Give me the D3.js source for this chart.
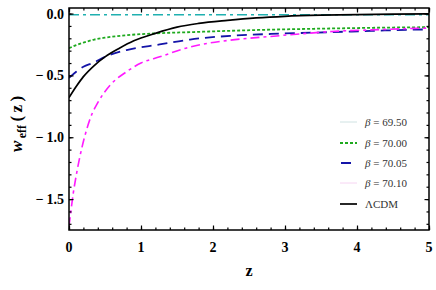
<!DOCTYPE html>
<html>
<head>
<meta charset="utf-8">
<script src="https://cdn.jsdelivr.net/npm/d3@7"></script>
<style>
  body { margin: 0; background: #fff; }
  text { font-family: "Liberation Serif", "Times New Roman", serif; }
</style>
</head>
<body>
<svg></svg>
<script>
// values
var zCyan = [0, 5];
var wCyan = [-0.01, -0.01];

var zGreen = [0, 0.1, 0.2, 0.35, 0.5, 0.8, 1.2, 1.7, 2.2, 2.8, 3.4, 4, 4.5, 5];
var wGreen = [-0.28, -0.255, -0.235, -0.21, -0.195, -0.175, -0.16, -0.15, -0.14, -0.13, -0.123, -0.117, -0.113, -0.11];

var zBlue = [0, 0.1, 0.2, 0.33, 0.5, 0.8, 1.26, 1.68, 2.24, 2.8, 3.65, 4.2, 4.8, 5];
var wBlue = [-0.52, -0.47, -0.43, -0.40, -0.35, -0.295, -0.25, -0.21, -0.18, -0.165, -0.15, -0.14, -0.13, -0.128];

var zMagenta = [0, 0.03, 0.06, 0.1, 0.15, 0.22, 0.3, 0.4, 0.57, 0.8, 1.0, 1.26, 1.68, 2.24, 2.8, 3.2, 3.65, 4.2, 4.8, 5];
var wMagenta = [-1.72, -1.58, -1.45, -1.31, -1.16, -0.99, -0.84, -0.72, -0.58, -0.47, -0.40, -0.35, -0.27, -0.215, -0.185, -0.165, -0.145, -0.132, -0.12, -0.117];

var zBlack = [0, 0.1, 0.2, 0.35, 0.5, 0.7, 0.9, 1.2, 1.5, 1.8, 2.2, 2.6, 3.0, 3.5, 4, 4.5, 5];
var wBlack = [-0.68, -0.59, -0.51, -0.42, -0.35, -0.28, -0.22, -0.16, -0.11, -0.08, -0.055, -0.035, -0.022, -0.013, -0.008, -0.005, -0.003];

var xTicks = [0, 1, 2, 3, 4, 5];
var yTicks = [0, -0.5, -1.0, -1.5];
var yTickLabels = ["0.0", "\u2212\u20090.5", "\u2212\u20091.0", "\u2212\u20091.5"];
var legendLabels = ["69.50", "70.00", "70.05", "70.10"];

function drawChart() {
    var width = 436, height = 290;
    var mLeft = 69, mRight = 429, mTop = 8, mBottom = 230;

    var svg = d3.select("svg").attr("width", width).attr("height", height);

    var x = d3.scaleLinear().domain([0, 5]).range([mLeft, mRight]);
    var y = d3.scaleLinear().domain([-1.75, 0.045]).range([mBottom, mTop]);

    var series = [
        {z: zCyan, w: wCyan, color: "#1fb0b0", dash: "10,4,3,4", width: 1.6},
        {z: zGreen, w: wGreen, color: "#1faa1f", dash: "3,2", width: 1.8},
        {z: zBlue, w: wBlue, color: "#1414a8", dash: "10,6", width: 1.8},
        {z: zMagenta, w: wMagenta, color: "#ff1aff", dash: "9,4,3,4", width: 1.6},
        {z: zBlack, w: wBlack, color: "#000", dash: null, width: 1.7}
    ];

    svg.append("clipPath").attr("id", "plotclip")
        .append("rect").attr("x", mLeft).attr("y", mTop)
        .attr("width", mRight - mLeft).attr("height", mBottom - mTop);

    var line = d3.line()
        .x(function(d) { return x(d[0]); })
        .y(function(d) { return y(d[1]); })
        .curve(d3.curveMonotoneX);

    var g = svg.append("g").attr("clip-path", "url(#plotclip)");
    series.forEach(function(s) {
        g.append("path")
            .datum(d3.zip(s.z, s.w))
            .attr("d", line)
            .attr("fill", "none")
            .attr("stroke", s.color)
            .attr("stroke-width", s.width)
            .attr("stroke-dasharray", s.dash);
    });

    // frame
    svg.append("rect")
        .attr("x", mLeft).attr("y", mTop)
        .attr("width", mRight - mLeft).attr("height", mBottom - mTop)
        .attr("fill", "none").attr("stroke", "#000").attr("stroke-width", 1.5);

    // ticks on all four sides, pointing inward
    var xMinor = d3.range(0, 5.001, 0.2);
    var yMinor = d3.range(-1.7, 0.01, 0.1);

    svg.append("g").attr("transform", "translate(0," + mBottom + ")")
        .call(d3.axisTop(x).tickValues(xMinor).tickSize(2.5).tickFormat(""));
    svg.append("g").attr("transform", "translate(0," + mBottom + ")")
        .call(d3.axisTop(x).tickValues(xTicks).tickSize(4.5).tickFormat(""));
    svg.append("g").attr("transform", "translate(0," + mTop + ")")
        .call(d3.axisBottom(x).tickValues(xMinor).tickSize(2.5).tickFormat(""));
    svg.append("g").attr("transform", "translate(0," + mTop + ")")
        .call(d3.axisBottom(x).tickValues(xTicks).tickSize(4.5).tickFormat(""));
    svg.append("g").attr("transform", "translate(" + mLeft + ",0)")
        .call(d3.axisRight(y).tickValues(yMinor).tickSize(2.5).tickFormat(""));
    svg.append("g").attr("transform", "translate(" + mLeft + ",0)")
        .call(d3.axisRight(y).tickValues(yTicks).tickSize(4.5).tickFormat(""));
    svg.append("g").attr("transform", "translate(" + mRight + ",0)")
        .call(d3.axisLeft(y).tickValues(yMinor).tickSize(2.5).tickFormat(""));
    svg.append("g").attr("transform", "translate(" + mRight + ",0)")
        .call(d3.axisLeft(y).tickValues(yTicks).tickSize(4.5).tickFormat(""));

    svg.selectAll(".domain").remove();
    svg.selectAll(".tick line").attr("stroke", "#000").attr("stroke-width", 1.2);

    // tick labels
    svg.selectAll(".xlab").data(xTicks).enter().append("text")
        .attr("x", function(d) { return x(d); })
        .attr("y", mBottom + 22)
        .attr("text-anchor", "middle")
        .attr("font-weight", "bold").attr("font-size", 14)
        .text(function(d) { return d; });

    svg.selectAll(".ylab").data(yTicks).enter().append("text")
        .attr("x", mLeft - 5)
        .attr("y", function(d) { return y(d) + 5; })
        .attr("text-anchor", "end")
        .attr("font-weight", "bold").attr("font-size", 14)
        .text(function(d, i) { return yTickLabels[i]; });

    // axis titles
    svg.append("text")
        .attr("x", 249).attr("y", 276)
        .attr("text-anchor", "middle")
        .attr("font-weight", "bold").attr("font-size", 16)
        .text("z");

    var yt = svg.append("text")
        .attr("transform", "translate(22,124) rotate(-90)")
        .attr("text-anchor", "middle")
        .attr("font-weight", "bold").attr("font-size", 17);
    yt.append("tspan").attr("font-style", "italic").text("w");
    yt.append("tspan").attr("font-size", 12).attr("dy", 4).text("\u2009eff");
    yt.append("tspan").attr("dy", -4).text("\u2009(\u2009z\u2009)");

    // legend
    var legendStyles = [
        {color: "#cfe2e2", dash: null, width: 1},
        {color: "#1faa1f", dash: "3,2", width: 1.8},
        {color: "#1414a8", dash: null, width: 2},
        {color: "#f6d4f2", dash: null, width: 1},
        {color: "#000", dash: null, width: 1.7}
    ];
    var legendY = [122, 143, 163, 183, 204];

    legendStyles.forEach(function(s, i) {
        var x0 = i == 2 ? 341 : 340, x1 = i == 2 ? 351 : 357;
        svg.append("line")
            .attr("x1", x0).attr("x2", x1)
            .attr("y1", legendY[i]).attr("y2", legendY[i])
            .attr("stroke", s.color).attr("stroke-width", s.width)
            .attr("stroke-dasharray", s.dash);
        var t = svg.append("text")
            .attr("x", 365).attr("y", legendY[i] + 4)
            .attr("font-size", 11).attr("fill", "#333");
        if (i < 4) {
            t.append("tspan").attr("font-style", "italic").text("\u03b2");
            t.append("tspan").text(" = " + legendLabels[i]);
        } else {
            t.text("\u039bCDM");
        }
    });
}

drawChart();
</script>
</body>
</html>
